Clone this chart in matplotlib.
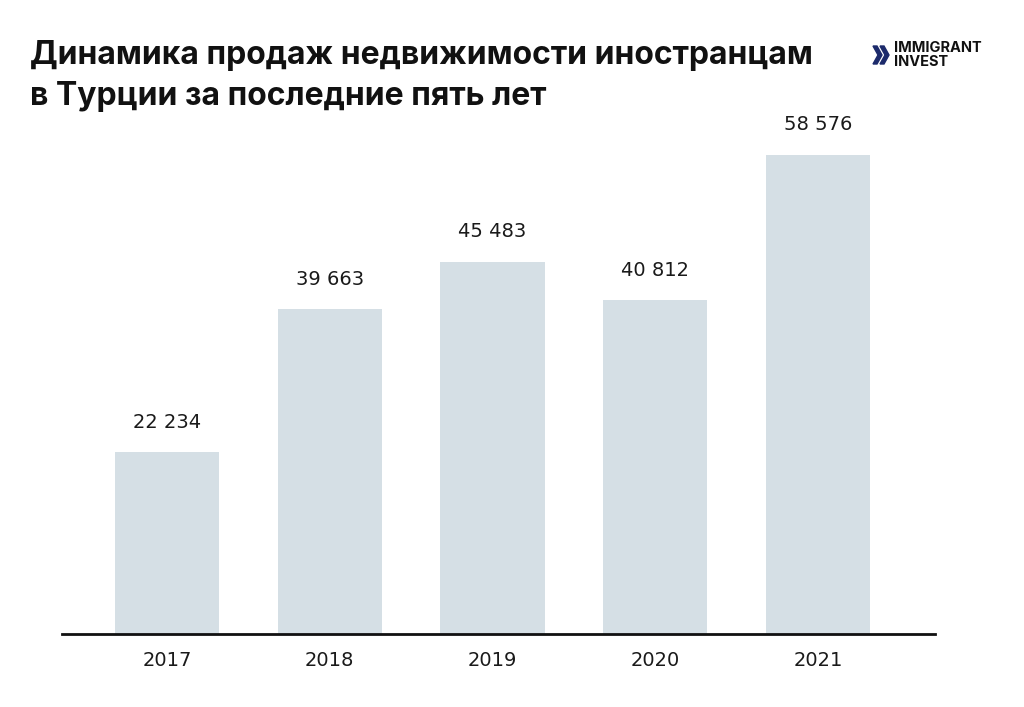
import matplotlib.pyplot as plt
from matplotlib.patches import Polygon

years = ["2017", "2018", "2019", "2020", "2021"]
sales = [22234, 39663, 45483, 40812, 58576]
labels = ["22 234", "39 663", "45 483", "40 812", "58 576"]

fig = plt.figure(figsize=(10.24, 7.07), dpi=100)
ax = fig.add_axes([62 / 1024, 1 - 634 / 707, (935 - 62) / 1024, (634 - 143) / 707])

x = range(len(years))
ax.bar(x, sales, width=0.64, color="#d5dfe5")
for i, (v, t) in enumerate(zip(sales, labels)):
    ax.annotate(t, (i, v), xytext=(0, 30), textcoords="offset pixels",
                ha="center", va="center", fontsize=14, color="#1a1a1a")

ax.set_xlim(-0.645, 4.719)
ax.set_ylim(0, 60000)
ax.set_xticks(list(x))
ax.set_xticklabels(years, fontsize=14, color="#1a1a1a")
ax.tick_params(axis="x", length=0, pad=12)
ax.set_yticks([])
for s in ["top", "right", "left"]:
    ax.spines[s].set_visible(False)
ax.spines["bottom"].set_linewidth(2)
ax.spines["bottom"].set_color("#111111")

fig.text(30 / 1024, 1 - 40 / 707, "Динамика продаж недвижимости иностранцам\nв Турции за последние пять лет",
         fontsize=23, fontweight="bold", family="Inter", color="#111111",
         va="top", ha="left", linespacing=1.4)

# logo
navy = "#1c2a6b"
def chevron(x0):
    pts = [(x0, 46), (x0 + 4, 46), (x0 + 9, 55), (x0 + 4, 64), (x0, 64), (x0 + 5, 55)]
    return Polygon([(px / 1024, 1 - py / 707) for px, py in pts], closed=True,
                   transform=fig.transFigure, color=navy)
fig.patches.append(chevron(873))
fig.patches.append(chevron(880))
fig.text(894 / 1024, 1 - 55 / 707, "IMMIGRANT\nINVEST", fontsize=10.5, fontweight="bold",
         family="Inter", color="#111111", va="center", ha="left", linespacing=0.95)

fig.savefig("out.png", dpi=100, facecolor="white")
